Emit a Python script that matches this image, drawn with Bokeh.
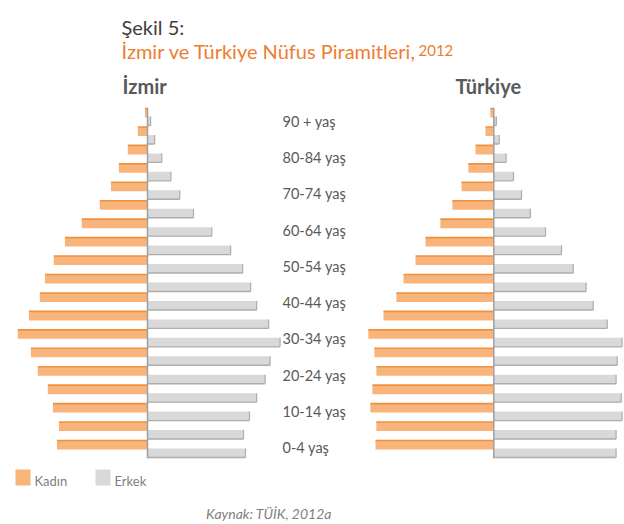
from bokeh.plotting import figure
from bokeh.models import Range1d
from bokeh.core.properties import value
from bokeh.embed import file_html
from bokeh.resources import INLINE

# ---------------- data (percent of population, 0-4 ... 90+) ----------------
age_groups = ["0-4", "5-9", "10-14", "15-19", "20-24", "25-29", "30-34", "35-39",
              "40-44", "45-49", "50-54", "55-59", "60-64", "65-69", "70-74",
              "75-79", "80-84", "85-89", "90+"]
izmir_kadin = [3.17, 3.10, 3.31, 3.49, 3.84, 4.08, 4.54, 4.15, 3.77, 3.59,
               3.28, 2.89, 2.30, 1.67, 1.28, 1.00, 0.69, 0.34, 0.09]
izmir_erkek = [3.43, 3.36, 3.57, 3.82, 4.12, 4.29, 4.64, 4.24, 3.82, 3.61,
               3.33, 2.91, 2.25, 1.61, 1.13, 0.82, 0.50, 0.25, 0.11]
turkiye_kadin = [4.14, 4.11, 4.32, 4.25, 4.11, 4.18, 4.39, 3.86, 3.41, 3.16,
                 2.74, 2.39, 1.87, 1.45, 1.13, 0.89, 0.64, 0.29, 0.12]
turkiye_erkek = [4.28, 4.28, 4.49, 4.46, 4.28, 4.32, 4.49, 3.97, 3.48, 3.23,
                 2.78, 2.37, 1.81, 1.28, 0.97, 0.69, 0.43, 0.19, 0.09]
tick_labels = ["0-4 yaş", "10-14 yaş", "20-24 yaş", "30-34 yaş", "40-44 yaş",
               "50-54 yaş", "60-64 yaş", "70-74 yaş", "80-84 yaş", "90 +  yaş"]

W, H = 624, 524
FONT = "Lato"
ORANGE = "#F9B47B"
ORANGE_EDGE = "#F0913F"
GREY = "#D9D9D9"
GREY_EDGE = "#ADADAD"

p = figure(width=W, height=H, x_range=Range1d(0, W), y_range=Range1d(0, H),
           x_axis_type=None, y_axis_type=None, toolbar_location=None,
           output_backend="svg", min_border=0, outline_line_color=None,
           background_fill_color="white")

k = 0.035  # percent per pixel
cx_izm, cx_tr = 147.0, 493.3
p.extra_x_ranges = {
    "izm": Range1d(-cx_izm * k, (W - cx_izm) * k),
    "tr": Range1d(-cx_tr * k, (W - cx_tr) * k),
}
p.extra_y_ranges = {
    "age": Range1d(-75.5 / 18.444, (H - 75.5) / 18.444),
    "lab": Range1d(-77 / 36.22, (H - 77) / 36.22),
}

idx = list(range(len(age_groups)))
hh = 0.488
off = 0.217

for rng, fem, mal in (("izm", izmir_kadin, izmir_erkek), ("tr", turkiye_kadin, turkiye_erkek)):
    neg = [-v for v in fem]
    yo = [i + off for i in idx]
    yg = [i - off for i in idx]
    p.hbar(y=yo, left=neg, right=0, height=hh, fill_color=ORANGE, line_color=None,
           x_range_name=rng, y_range_name="age")
    p.segment(x0=neg, x1=[0] * len(idx), y0=[y + hh / 2 for y in yo], y1=[y + hh / 2 for y in yo],
              line_color=ORANGE_EDGE, line_width=1.6, x_range_name=rng, y_range_name="age")
    p.hbar(y=yg, left=0, right=mal, height=hh, fill_color=GREY, line_color=None,
           x_range_name=rng, y_range_name="age")
    yb = [y - hh / 2 for y in yg]
    p.segment(x0=[0] * len(idx), x1=mal, y0=yb, y1=yb,
              line_color=GREY_EDGE, line_width=1.4, x_range_name=rng, y_range_name="age")
    p.segment(x0=mal, x1=mal, y0=yb, y1=[y + hh / 2 for y in yg],
              line_color=GREY_EDGE, line_width=1.2, x_range_name=rng, y_range_name="age")
    p.segment(x0=[0], x1=[0], y0=[-0.5], y1=[len(idx) - 0.5],
              line_color="#A0A0A0", line_width=1.5, x_range_name=rng, y_range_name="age")

# age labels
p.text(x=[282] * len(tick_labels), y=list(range(len(tick_labels))), text=tick_labels,
       y_range_name="lab", text_font=value(FONT), text_font_size="14.5px",
       text_color="#595959", text_baseline="middle", text_align="left")

# titles
p.text(x=[121], y=[498], text=["Şekil 5:"], text_font=value(FONT), text_font_size="20px",
       text_color="#404040", text_baseline="alphabetic")
p.text(x=[121], y=[474], text=["İzmir ve Türkiye Nüfus Piramitleri,"], text_font=value(FONT),
       text_font_size="20px", text_color="#EE7D31", text_baseline="alphabetic")
p.text(x=[418], y=[474], text=["2012"], text_font=value(FONT), text_font_size="15px",
       text_color="#EE7D31", text_baseline="alphabetic")
p.text(x=[122, 455], y=[439, 439], text=["İzmir", "Türkiye"], text_font=value(FONT),
       text_font_size="20px", text_font_style="bold", text_color="#595959",
       text_baseline="alphabetic")

# legend
p.rect(x=[22.5, 102.5], y=[47, 47], width=15, height=16, fill_color=[ORANGE, GREY], line_color=None)
p.text(x=[34, 114], y=[44, 44], text=["Kadın", "Erkek"], text_font=value(FONT),
       text_font_size="13px", text_color="#7F7F7F", text_baseline="middle")

# source
p.text(x=[268.5], y=[11], text=["Kaynak: TÜİK, 2012a"], text_font=value(FONT),
       text_font_size="14px", text_font_style="italic", text_color="#7F7F7F",
       text_align="center", text_baseline="alphabetic")

open("out.html", "w").write(file_html(p, INLINE))
